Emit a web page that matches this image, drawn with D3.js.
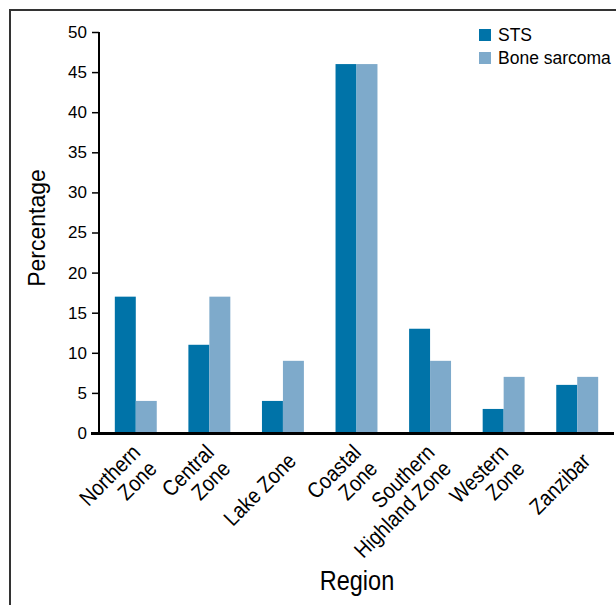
<!DOCTYPE html>
<html>
<head>
<meta charset="utf-8">
<script src="https://cdn.jsdelivr.net/npm/d3@7"></script>
<style>
  html, body { margin: 0; padding: 0; background: #fff; }
  svg { display: block; }
</style>
</head>
<body>
<svg id="chart" width="616" height="605"></svg>
<script>
const regions = [
  ["Northern", "Zone"],
  ["Central", "Zone"],
  ["Lake Zone"],
  ["Coastal", "Zone"],
  ["Southern", "Highland Zone"],
  ["Western", "Zone"],
  ["Zanzibar"]
];
const regionKeys = ["Northern Zone", "Central Zone", "Lake Zone", "Coastal Zone", "Southern Highland Zone", "Western Zone", "Zanzibar"];
const stsValues = [17, 11, 4, 46, 13, 3, 6];
const boneValues = [4, 17, 9, 46, 9, 7, 7];
const seriesNames = ["STS", "Bone sarcoma"];
const seriesColors = ["#0073a8", "#7eaacb"];
const yTicks = [0, 5, 10, 15, 20, 25, 30, 35, 40, 45, 50];

(function () {
const svg = d3.select("#chart");
const font = "'Liberation Sans', Arial, Helvetica, sans-serif";

// frame
svg.append("path")
  .attr("d", "M10,605 L10,10 L616,10")
  .attr("fill", "none").attr("stroke", "#333").attr("stroke-width", 2);

const mLeft = 99, mRight = 614, mTop = 32, mBottom = 433;
const x = d3.scaleBand().domain(regionKeys).range([mLeft, mRight]).paddingInner(0.43).paddingOuter(0.215);
const xs = d3.scaleBand().domain(seriesNames).range([0, x.bandwidth()]);
const y = d3.scaleLinear().domain([0, 50]).range([mBottom, mTop]);

// bars
const data = regionKeys.map((k, i) => ({ key: k, vals: [stsValues[i], boneValues[i]] }));
const g = svg.append("g");
data.forEach(d => {
  d.vals.forEach((v, j) => {
    g.append("rect")
      .attr("x", x(d.key) + xs(seriesNames[j]))
      .attr("y", y(v))
      .attr("width", xs.bandwidth())
      .attr("height", y(0) - y(v))
      .attr("fill", seriesColors[j]);
  });
});

// y axis
const yAxis = svg.append("g").attr("transform", `translate(${mLeft},0)`)
  .call(d3.axisLeft(y).tickValues(yTicks).tickSize(7).tickPadding(5));
yAxis.select(".domain").attr("stroke", "#000").attr("stroke-width", 2).attr("d", `M0,${mTop}V${mBottom}`);
yAxis.selectAll(".tick line").attr("stroke", "#000").attr("stroke-width", 1.5);
yAxis.selectAll(".tick text").attr("font-family", font).attr("font-size", 17).attr("fill", "#000");

// x axis line
svg.append("line").attr("x1", mLeft - 8).attr("x2", mRight).attr("y1", mBottom + 0.5).attr("y2", mBottom + 0.5)
  .attr("stroke", "#000").attr("stroke-width", 3);

// x labels
regionKeys.forEach((k, i) => {
  const lines = regions[i];
  const cx = x(k) + x.bandwidth() / 2;
  const lg = svg.append("g").attr("transform", `translate(${cx + 9},${mBottom + 24}) rotate(-45) scale(0.88,1)`);
  const t = lg.append("text").attr("text-anchor", "end")
    .attr("font-family", font).attr("font-size", 22).attr("fill", "#000");
  const n = lines.length;
  lines.forEach((ln, j) => {
    t.append("tspan").attr("x", 0)
      .attr("dy", j === 0 ? (n === 1 ? "0.35em" : "-0.2em") : "1.05em")
      .text(ln);
  });
});

// axis titles
svg.append("text").attr("transform", "translate(45,228) rotate(-90)")
  .attr("text-anchor", "middle").attr("font-family", font).attr("font-size", 23).text("Percentage");
svg.append("text").attr("transform", "translate(357,590) scale(0.84,1)")
  .attr("text-anchor", "middle").attr("font-family", font).attr("font-size", 28).text("Region");

// legend
seriesNames.forEach((s, i) => {
  const ly = 29 + i * 23;
  svg.append("rect").attr("x", 479).attr("y", ly).attr("width", 12).attr("height", 12).attr("fill", seriesColors[i]);
  svg.append("text").attr("x", 498).attr("y", ly + 12).attr("font-family", font).attr("font-size", 17.5).text(s);
});
})();
</script>
</body>
</html>
